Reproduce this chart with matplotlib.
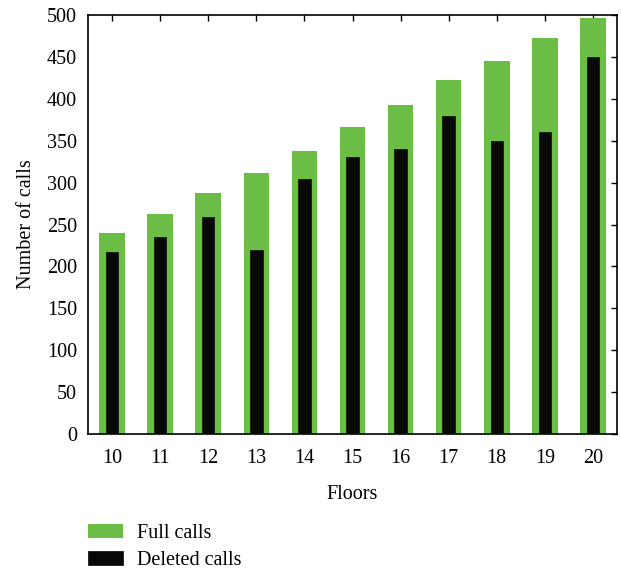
import numpy as np
import matplotlib.pyplot as plt

# Calls per building height
floors = [10, 11, 12, 13, 14, 15, 16, 17, 18, 19, 20]
full_calls = [240, 262, 288, 312, 338, 366, 393, 422, 445, 473, 496]
deleted_calls = [217, 235, 259, 220, 304, 331, 340, 380, 350, 360, 450]
y_ticks = [0, 50, 100, 150, 200, 250, 300, 350, 400, 450, 500]

plt.rcParams['font.family'] = ['Liberation Serif', 'DejaVu Serif']
fs = 14.5

fig = plt.figure(figsize=(6.21, 5.73), dpi=100)
ax = fig.add_axes([88 / 621, 139 / 573, 529 / 621, 419 / 573])

x = np.array(floors)
ax.bar(x, full_calls, width=0.53, color='#6bbd45', label='Full calls', zorder=2)
ax.bar(x, deleted_calls, width=0.26, color='#070807', edgecolor='#1a1a1a',
       linewidth=0.6, label='Deleted calls', zorder=3)

ax.set_xlim(9.5, 20.5)
ax.set_ylim(0, 500)
ax.set_xticks(floors)
ax.set_yticks(y_ticks)

# ticks only drawn on the top and right edges, pointing inwards
ax.tick_params(axis='both', direction='in', length=4, width=1,
               left=False, bottom=False, top=True, right=True,
               labelleft=True, labelbottom=True, labelsize=fs)
ax.tick_params(axis='x', pad=11)
ax.tick_params(axis='y', pad=8)
for spine in ax.spines.values():
    spine.set_linewidth(1.2)

ax.set_xlabel('Floors', fontsize=fs, labelpad=12)
ax.set_ylabel('Number of calls', fontsize=fs, labelpad=8)

fig.legend(loc='upper left', bbox_to_anchor=(88 / 621, 1 - 524 / 573),
           frameon=False, fontsize=fs, handlelength=1.75, handleheight=0.7,
           labelspacing=0.4, handletextpad=0.7, borderaxespad=0, borderpad=0)

fig.savefig('out.png', dpi=100)
